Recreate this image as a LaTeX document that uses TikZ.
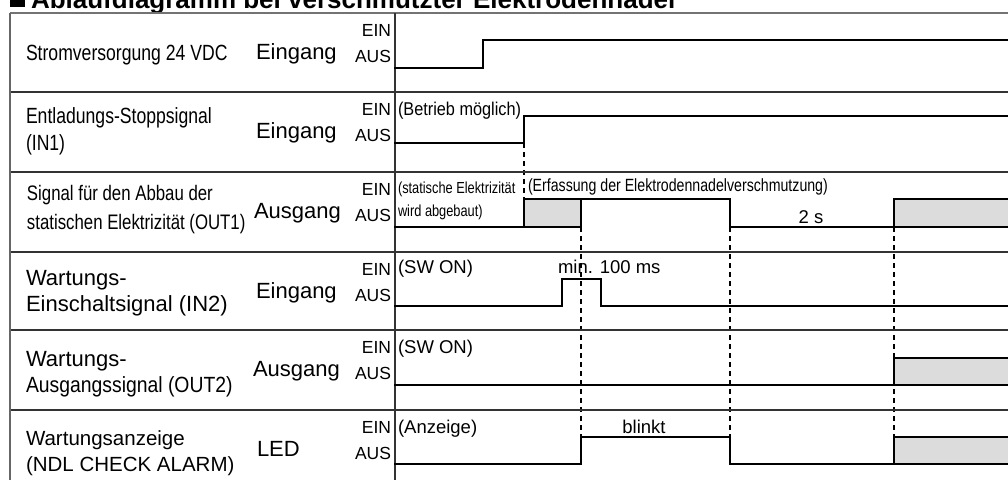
\documentclass[tikz,border=0pt]{standalone}
\usepackage{fontspec}
\setmainfont{Liberation Sans}
\newfontfamily\narrowfont{Liberation Sans}[FakeStretch=0.8]
\newfontfamily\semifont{Liberation Sans}[FakeStretch=0.88]
\newcommand\fTitle{\bfseries\fontsize{26}{30}\selectfont}
\newcommand\fLeftA{\narrowfont\fontsize{22}{26}\selectfont}
\newcommand\fLeftB{\narrowfont\fontsize{21}{25}\selectfont}
\newcommand\fLeftW{\fontsize{22}{26}\selectfont}
\newcommand\fLeftS{\semifont\fontsize{22}{26}\selectfont}
\newcommand\fLeftC{\fontsize{20.5}{25}\selectfont}
\newcommand\fMid{\fontsize{22}{26}\selectfont}
\newcommand\fEA{\fontsize{17.5}{20}\selectfont}
\newcommand\fRA{\semifont\fontsize{18.5}{22}\selectfont}
\newcommand\fRN{\narrowfont\fontsize{16}{19}\selectfont}
\newcommand\fRE{\narrowfont\fontsize{17.7}{21}\selectfont}
\newcommand\fRB{\fontsize{18.5}{22}\selectfont}
\definecolor{shade}{HTML}{DCDCDC}
\definecolor{rule}{HTML}{333333}
\begin{document}
\begin{tikzpicture}[x=1pt,y=-1pt,
  wave/.style={line width=2.4pt, line join=miter, line cap=rect},
  gridline/.style={line width=1.2pt, draw=rule},
  guide/.style={line width=1.1pt, dash pattern=on 5pt off 4pt},
  shadebox/.style={fill=shade, draw=none},
  txt/.style={inner sep=0pt, outer sep=0pt, anchor=base west},
  txtr/.style={inner sep=0pt, outer sep=0pt, anchor=base east},
  txtc/.style={inner sep=0pt, outer sep=0pt, anchor=base}]
\useasboundingbox (0,0) rectangle (1008,480);
\clip (0,0) rectangle (1008,480);
\fill[white] (0,0) rectangle (1008,480);

% title (cut off at top, as in the reference)
\fill[black] (10,-8) rectangle (25,7);
\node[txt] (title) at (31,8) {\fTitle Ablaufdiagramm bei verschmutzter Elektrodennadel};

% shaded areas
\fill[shadebox] (524,199) rectangle (581,227);
\fill[shadebox] (894,199) rectangle (1008,227);
\fill[shadebox] (894,358) rectangle (1008,385);
\fill[shadebox] (894,437) rectangle (1008,464);

% dashed guides
\draw[guide] (524,143) -- (524,199);
\draw[guide] (581,227) -- (581,437);
\draw[guide] (730,227) -- (730,437);
\draw[guide] (894,227) -- (894,437);

% table lines
\draw[gridline, draw=black!55] (10,13) -- (1008,13);
\foreach \yy in {92,172,252,330,410}
  \draw[gridline] (10,\yy) -- (1008,\yy);
\draw[gridline, draw=black!60] (10,13) -- (10,480);
\draw[gridline] (395,13) -- (395,480);

% waveforms
\draw[wave] (395,68) -- (483,68) -- (483,40) -- (1010,40);
\draw[wave] (395,143) -- (524,143) -- (524,116) -- (1010,116);
\draw[wave] (395,227) -- (524,227) -- (524,199) -- (730,199) -- (730,227) -- (894,227) -- (894,199) -- (1010,199);
\draw[wave] (524,227) -- (581,227) -- (581,199);
\draw[wave] (894,227) -- (1010,227);
\draw[wave] (395,306) -- (562,306) -- (562,279) -- (601,279) -- (601,306) -- (1010,306);
\draw[wave] (395,385) -- (894,385) -- (894,358) -- (1010,358);
\draw[wave] (894,385) -- (1010,385);
\draw[wave] (395,464) -- (581,464) -- (581,437) -- (730,437) -- (730,464) -- (1010,464);
\draw[wave] (894,464) -- (894,437) -- (1010,437);

% left labels
\node[txt] (l1) at (26,60) {\fLeftA Stromversorgung 24 VDC};
\node[txt] (l2a) at (26,123) {\fLeftA Entladungs-Stoppsignal};
\node[txt] (l2b) at (26,150) {\fLeftA (IN1)};
\node[txt] (l3a) at (27,200) {\fLeftB Signal für den Abbau der};
\node[txt] (l3b) at (27,229) {\fLeftB statischen Elektrizität (OUT1)};
\node[txt] (l4a) at (26,285) {\fLeftW Wartungs-};
\node[txt] (l4b) at (26,311) {\fLeftW Einschaltsignal (IN2)};
\node[txt] (l5a) at (26,366) {\fLeftW Wartungs-};
\node[txt] (l5b) at (26,392) {\fLeftS Ausgangssignal (OUT2)};
\node[txt] (l6a) at (26,445) {\fLeftC Wartungsanzeige};
\node[txt] (l6b) at (26,471) {\fLeftC (NDL CHECK ALARM)};

% middle labels
\node[txt] (m1) at (256,59.5) {\fMid Eingang};
\node[txt] (m2) at (256,138.5) {\fMid Eingang};
\node[txt] (m3) at (254,218.5) {\fMid Ausgang};
\node[txt] (m4) at (256,298.5) {\fMid Eingang};
\node[txt] (m5) at (253,376.5) {\fMid Ausgang};
\node[txt] (m6) at (257,456.5) {\fMid LED};

% EIN / AUS
\foreach \tt [count=\i] in {13,92,172,252,330,410} {
  \node[txtr] (ein\i) at (391,\tt+23.5) {\fEA EIN};
  \node[txtr] (aus\i) at (391,\tt+49.5) {\fEA AUS};
}

% right-hand annotations
\node[txt] (r2) at (398,115.5) {\fRA (Betrieb möglich)};
\node[txt] (r3a) at (398,193) {\fRN (statische Elektrizität};
\node[txt] (r3b) at (398,216) {\fRN wird abgebaut)};
\node[txt] (r3c) at (528,191) {\fRE (Erfassung der Elektrodennadelverschmutzung)};
\node[txtc] (r3d) at (811,223) {\fRB 2 s};
\node[txt] (r4a) at (398,273) {\fRB (SW ON)};
\node[txt] (r4b) at (558,273) {\fRB min. 100 ms};
\node[txt] (r5) at (398,353) {\fRB (SW ON)};
\node[txt] (r6a) at (398,433) {\fRB (Anzeige)};
\node[txtc] (r6b) at (644,433) {\fRB blinkt};
\end{tikzpicture}
\end{document}
